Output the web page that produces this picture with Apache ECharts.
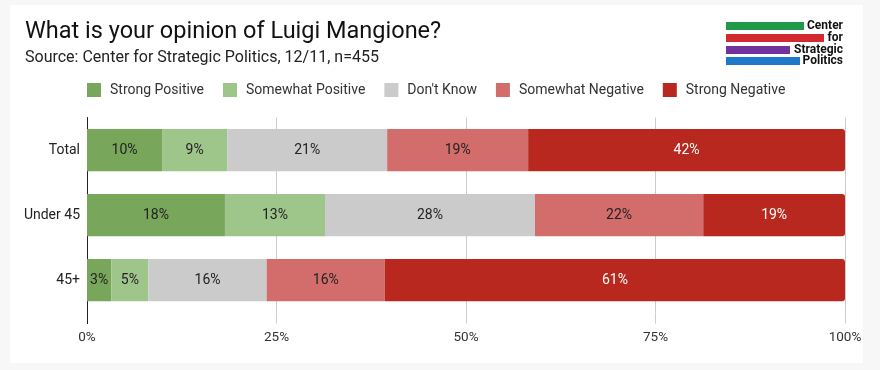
<!DOCTYPE html>
<html>
<head>
<meta charset="utf-8">
<script src="https://cdn.jsdelivr.net/npm/echarts@6/dist/echarts.min.js"></script>
<style>
  html, body { margin: 0; padding: 0; background: #f7f7f7; }
  #card { position: absolute; left: 10px; top: 5px; width: 853px; height: 358px; background: #ffffff; }
  #chart { position: absolute; left: 0; top: 0; width: 880px; height: 370px; }
</style>
</head>
<body>
<div id="card"></div>
<div id="chart"></div>
<script>
const categories = ['Total', 'Under 45', '45+'];
const seriesNames = ['Strong Positive', 'Somewhat Positive', "Don't Know", 'Somewhat Negative', 'Strong Negative'];
const strongPositive = [9.9, 18.2, 3.2];
const somewhatPositive = [8.6, 13.2, 4.9];
const dontKnow = [21.1, 27.7, 15.6];
const somewhatNegative = [18.6, 22.2, 15.6];
const strongNegative = [41.8, 18.7, 60.7];
const xTicks = [0, 25, 50, 75, 100];

const colors = ['#78a65a', '#9fc68a', '#cbcbcb', '#d26d6b', '#b9281e'];
const labelColors = ['#222', '#222', '#222', '#222', '#fff'];
const allData = [strongPositive, somewhatPositive, dontKnow, somewhatNegative, strongNegative];

const chart = echarts.init(document.getElementById('chart'));
const series = seriesNames.map((name, i) => ({
  name: name,
  type: 'bar',
  stack: 'total',
  data: allData[i],
  barWidth: '65%',
  itemStyle: { color: colors[i], borderRadius: i === 4 ? [0, 3, 3, 0] : 0 },
  label: {
    show: true,
    position: 'inside',
    color: labelColors[i],
    fontSize: 14,
    fontFamily: 'Roboto',
    formatter: p => Math.round(p.value) + '%'
  }
}));

const logoFont = 'bold 12px "Liberation Sans Narrow", "Roboto"';

chart.setOption({
  animation: false,
  backgroundColor: 'transparent',
  textStyle: { fontFamily: 'Roboto' },
  title: {
    text: 'What is your opinion of Luigi Mangione?',
    subtext: 'Source: Center for Strategic Politics, 12/11, n=455',
    left: 20,
    top: 15,
    itemGap: 6,
    textStyle: { fontSize: 23.5, fontWeight: 'normal', color: '#111', fontFamily: 'Roboto' },
    subtextStyle: { fontSize: 16, color: '#222', fontFamily: 'Roboto' }
  },
  legend: {
    data: seriesNames,
    left: 82,
    top: 78,
    itemWidth: 14,
    itemHeight: 14,
    itemGap: 19,
    icon: 'rect',
    textStyle: { fontSize: 14, color: '#333', fontFamily: 'Roboto', padding: [0, 0, 0, 4] }
  },
  grid: { left: 87, right: 35, top: 117.5, bottom: 57.5, containLabel: false },
  xAxis: {
    type: 'value',
    min: 0,
    max: 100,
    interval: 25,
    axisLine: { show: true, lineStyle: { color: '#cccccc', opacity: 0 } },
    axisTick: { show: true, length: 11, lineStyle: { color: '#cccccc', opacity: 1 } },
    splitLine: { show: true, lineStyle: { color: '#cccccc' } },
    axisLabel: { formatter: v => v + '%', fontSize: 13.5, color: '#333', margin: 18, fontFamily: 'Roboto' }
  },
  yAxis: {
    type: 'category',
    data: categories,
    inverse: true,
    axisLine: { show: true, lineStyle: { color: '#222' } },
    axisTick: { show: false },
    axisLabel: { fontSize: 14, color: '#222', margin: 7, fontFamily: 'Roboto' }
  },
  graphic: [
    { type: 'line', shape: { x1: 87.5, y1: 312, x2: 87.5, y2: 324 }, style: { stroke: '#222', lineWidth: 1 }, z: 100 },
    { type: 'rect', shape: { x: 726, y: 22, width: 78, height: 8 }, style: { fill: '#21994a' } },
    { type: 'rect', shape: { x: 726, y: 34, width: 98, height: 8 }, style: { fill: '#d22a30' } },
    { type: 'rect', shape: { x: 726, y: 46, width: 64, height: 8 }, style: { fill: '#7132a0' } },
    { type: 'rect', shape: { x: 726, y: 57, width: 74, height: 8 }, style: { fill: '#1f78c8' } },
    { type: 'text', style: { text: 'Center', x: 843, y: 26, align: 'right', verticalAlign: 'middle', font: logoFont, fill: '#111' } },
    { type: 'text', style: { text: 'for', x: 843, y: 38, align: 'right', verticalAlign: 'middle', font: logoFont, fill: '#111' } },
    { type: 'text', style: { text: 'Strategic', x: 843, y: 50, align: 'right', verticalAlign: 'middle', font: logoFont, fill: '#111' } },
    { type: 'text', style: { text: 'Politics', x: 843, y: 61, align: 'right', verticalAlign: 'middle', font: logoFont, fill: '#111' } }
  ],
  series: series
});
</script>
</body>
</html>
